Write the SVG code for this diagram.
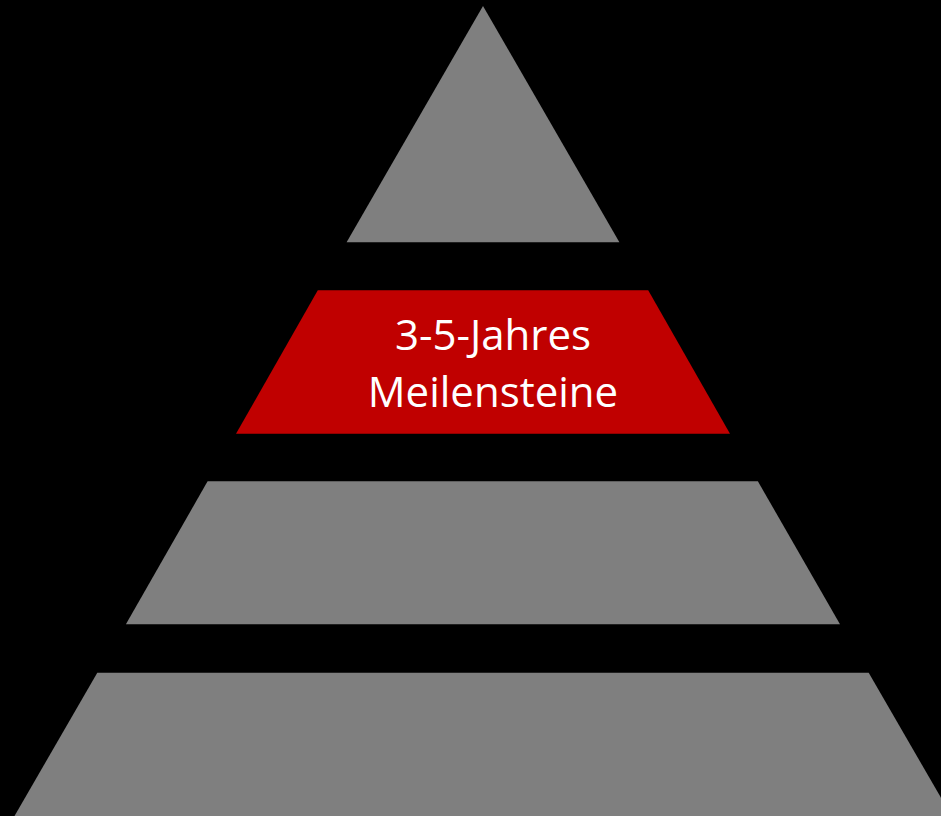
<svg xmlns="http://www.w3.org/2000/svg" width="941" height="816" viewBox="0 0 941 816">
<style>
.g{fill:#7f7f7f}
.r{fill:#c00000}
.t{font-family:"Open Sans","Noto Sans",sans-serif;font-size:42px;fill:#ffffff;text-anchor:middle}
</style>
<rect x="0" y="0" width="941" height="816" fill="#000000"/>
<g id="level1"><polygon class="g" points="483,6 619.4,242.3 346.6,242.3"/></g>
<g id="level2"><polygon class="r" points="317.8,290.3 648.2,290.3 730,433.7 236,433.7"/>
<text class="t" x="493" y="350">3-5-Jahres</text>
<text class="t" x="493" y="406.7">Meilensteine</text></g>
<g id="level3"><polygon class="g" points="207.6,481.3 757.9,481.3 840,624.3 125.9,624.3"/></g>
<g id="level4"><polygon class="g" points="97.3,672.7 868.7,672.7 951.5,816 14.5,816"/></g>
<g id="connectors"></g>
</svg>
